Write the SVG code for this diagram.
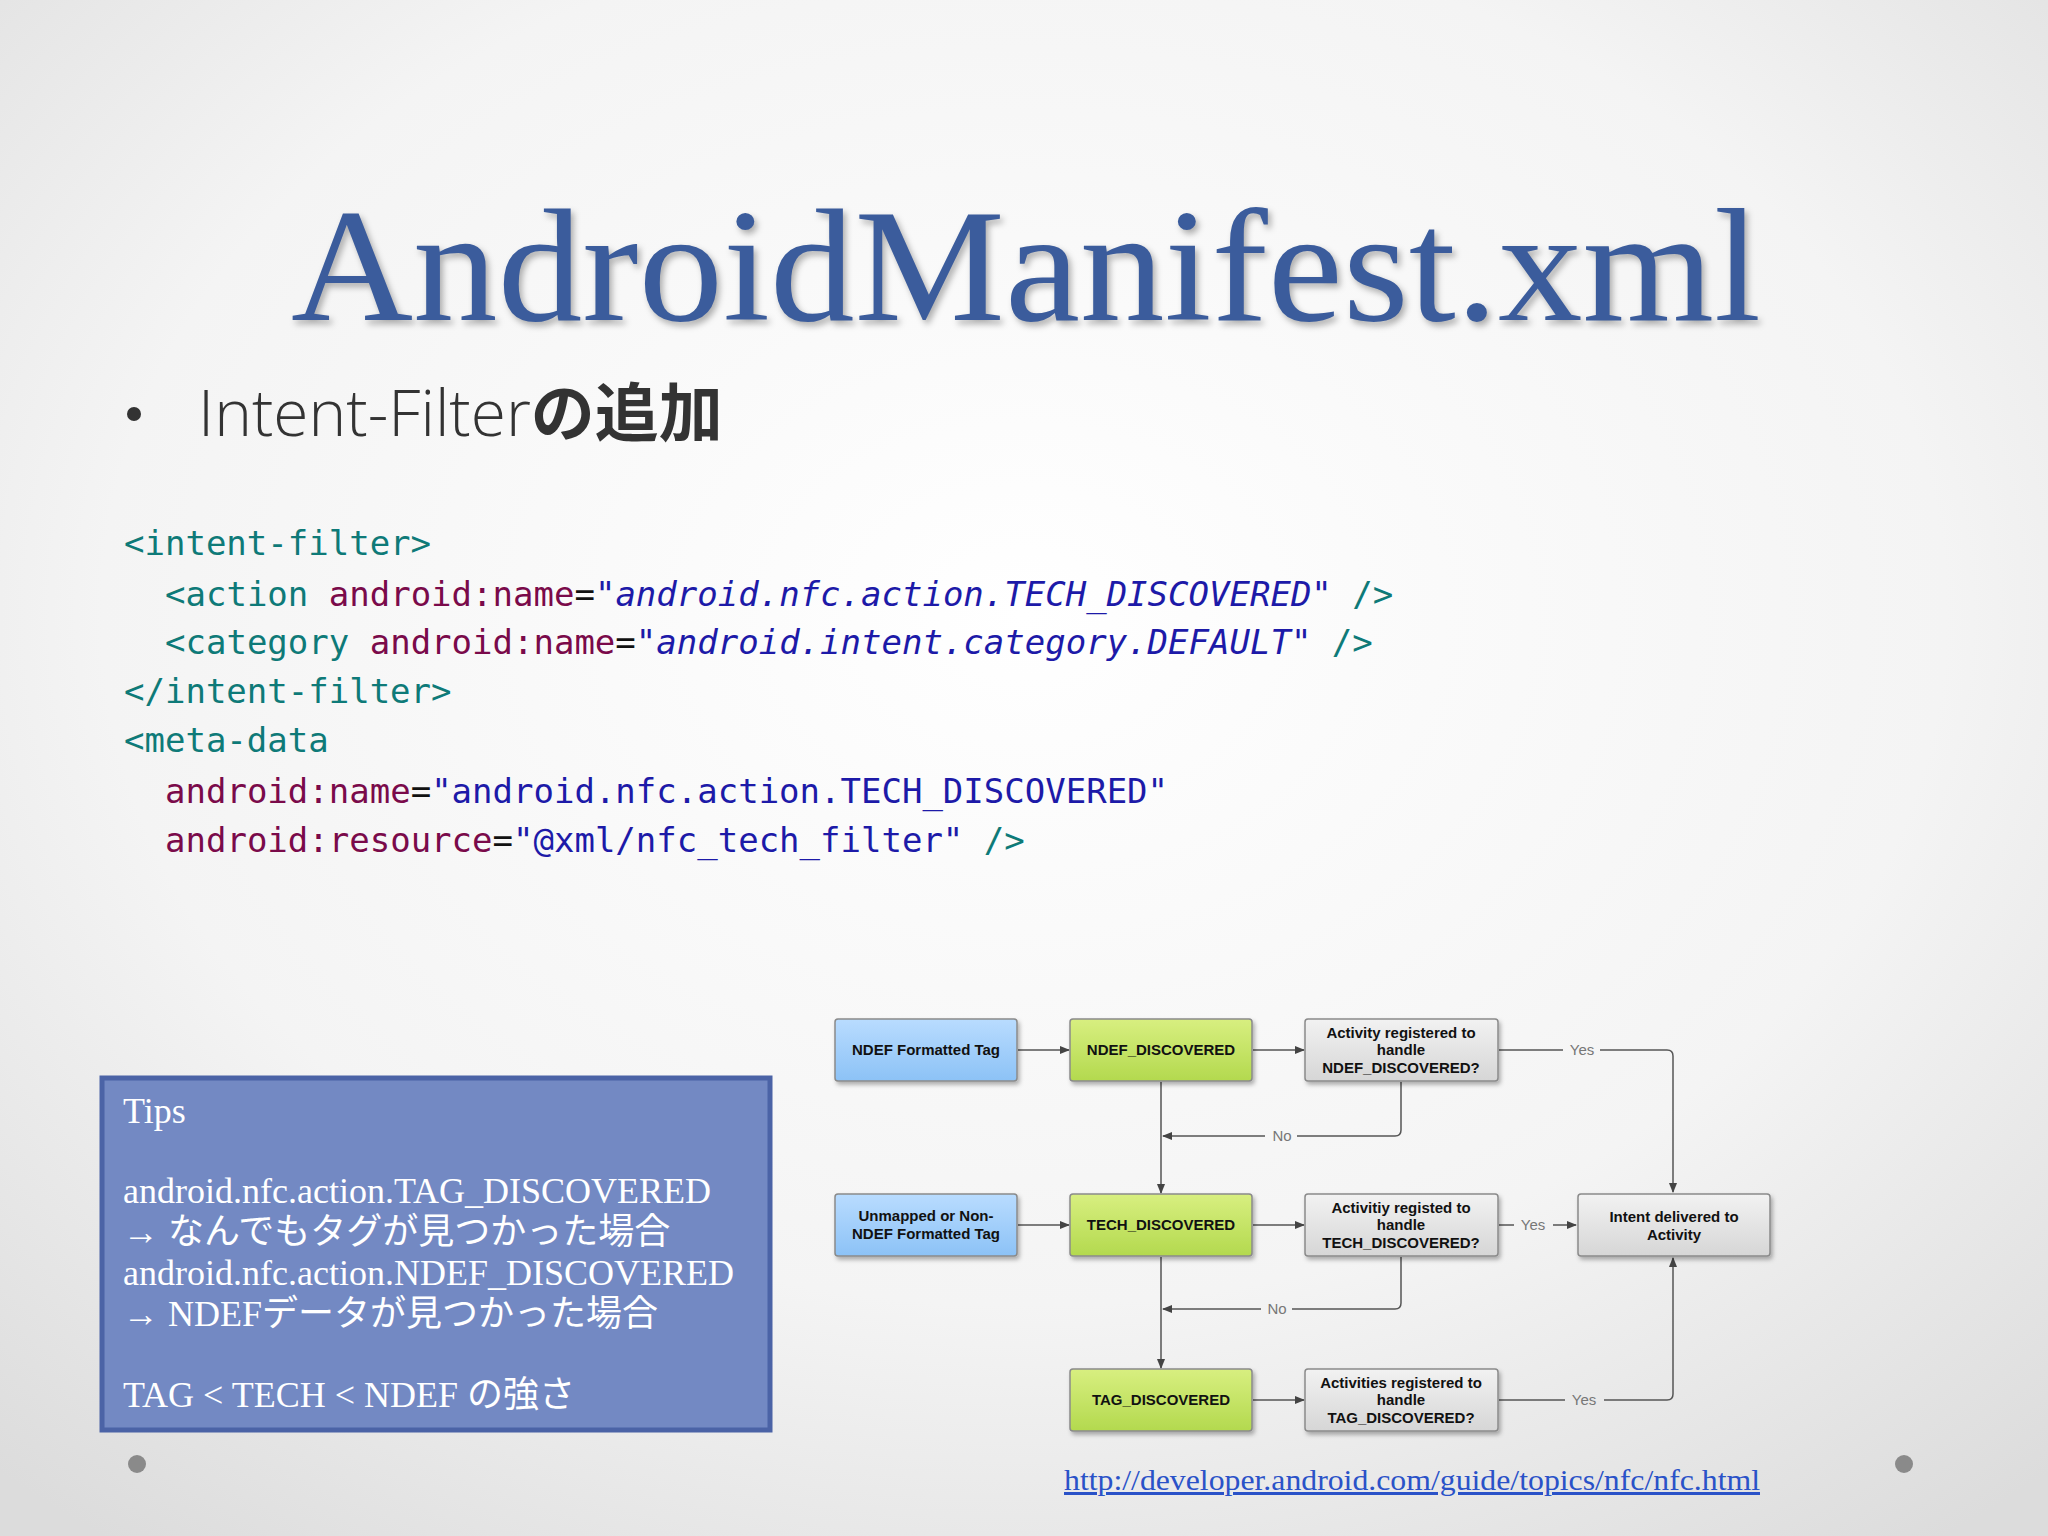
<svg xmlns="http://www.w3.org/2000/svg" width="2048" height="1536" viewBox="0 0 2048 1536">
<defs>
<radialGradient id="bg" cx="50%" cy="40%" r="75%"><stop offset="0" stop-color="#ffffff"/><stop offset="0.6" stop-color="#f4f4f4"/><stop offset="1" stop-color="#dcdcdc"/></radialGradient>
<linearGradient id="blue" x1="0" y1="0" x2="0" y2="1"><stop offset="0" stop-color="#b9dcff"/><stop offset="1" stop-color="#8cc2f6"/></linearGradient>
<linearGradient id="green" x1="0" y1="0" x2="0" y2="1"><stop offset="0" stop-color="#d8ef80"/><stop offset="1" stop-color="#b3d94e"/></linearGradient>
<linearGradient id="gray" x1="0" y1="0" x2="0" y2="1"><stop offset="0" stop-color="#f2f2f2"/><stop offset="1" stop-color="#d6d6d6"/></linearGradient>
<filter id="sh" x="-10%" y="-10%" width="130%" height="140%"><feDropShadow dx="2" dy="3" stdDeviation="2" flood-color="#000" flood-opacity="0.3"/></filter>
<marker id="ar" viewBox="0 0 10 10" refX="9" refY="5" markerWidth="7" markerHeight="7" orient="auto"><path d="M0,1 L10,5 L0,9 z" fill="#444"/></marker>
<style>
.code{font-family:"DejaVu Sans Mono","Liberation Mono",monospace;font-size:34px}
.t{fill:#0e7a78}.a{fill:#7a0a4a}.v{fill:#1d1aa8}.e{fill:#111}
.bx{stroke:#8a8a8a;stroke-width:1.5;filter:url(#sh)}
.bt{font-family:"Liberation Sans",Arial,sans-serif;font-weight:bold;font-size:15px;fill:#111;text-anchor:middle}
.ln{fill:none;stroke:#555;stroke-width:1.5}
.lb{font-family:"Liberation Sans",Arial,sans-serif;font-size:15px;fill:#777;text-anchor:middle}
.tips{font-family:"Liberation Serif","Noto Sans CJK JP",serif;font-size:36px;fill:#fff}
</style>
</defs>
<rect width="2048" height="1536" fill="url(#bg)"/>
<text x="1026" y="320" text-anchor="middle" font-family="Liberation Serif,serif" font-size="160" fill="#3b5c9c" textLength="1470" lengthAdjust="spacingAndGlyphs" style="filter:drop-shadow(3px 4px 3px rgba(0,0,0,0.3))">AndroidManifest.xml</text>
<circle cx="134" cy="414" r="7" fill="#333"/>
<text x="198" y="436" font-family="Open Sans,'Noto Sans CJK JP',sans-serif" font-weight="300" font-size="64" fill="#333">Intent-Filter<tspan font-family="'Noto Sans CJK JP',sans-serif" font-weight="bold">の追加</tspan></text>
<g class="code">
<text x="124" y="555"><tspan class="t">&lt;intent-filter&gt;</tspan></text>
<text x="165" y="606"><tspan class="t">&lt;action </tspan><tspan class="a">android:name</tspan><tspan class="e">=</tspan><tspan class="v">"<tspan font-style="italic">android.nfc.action.TECH_DISCOVERED</tspan>" </tspan><tspan class="t">/&gt;</tspan></text>
<text x="165" y="654"><tspan class="t">&lt;category </tspan><tspan class="a">android:name</tspan><tspan class="e">=</tspan><tspan class="v">"<tspan font-style="italic">android.intent.category.DEFAULT</tspan>" </tspan><tspan class="t">/&gt;</tspan></text>
<text x="124" y="703"><tspan class="t">&lt;/intent-filter&gt;</tspan></text>
<text x="124" y="752"><tspan class="t">&lt;meta-data</tspan></text>
<text x="165" y="803"><tspan class="a">android:name</tspan><tspan class="e">=</tspan><tspan class="v">"android.nfc.action.TECH_DISCOVERED"</tspan></text>
<text x="165" y="852"><tspan class="a">android:resource</tspan><tspan class="e">=</tspan><tspan class="v">"@xml/nfc_tech_filter" </tspan><tspan class="t">/&gt;</tspan></text>
</g>
<g id="tips">
<rect x="102" y="1078" width="668" height="352" fill="#7389c3" stroke="#4b63a6" stroke-width="5"/>
<text class="tips" x="123" y="1123">Tips</text>
<text class="tips" x="123" y="1203">android.nfc.action.TAG_DISCOVERED</text>
<text class="tips" x="123" y="1244">→ なんでもタグが見つかった場合</text>
<text class="tips" x="123" y="1285">android.nfc.action.NDEF_DISCOVERED</text>
<text class="tips" x="123" y="1326">→ NDEFデータが見つかった場合</text>
<text class="tips" x="123" y="1407">TAG &lt; TECH &lt; NDEF の強さ</text>
</g>
<g id="connectors">
<line class="ln" x1="1018" y1="1050" x2="1069" y2="1050" marker-end="url(#ar)"/>
<line class="ln" x1="1253" y1="1050" x2="1304" y2="1050" marker-end="url(#ar)"/>
<line class="ln" x1="1018" y1="1225" x2="1069" y2="1225" marker-end="url(#ar)"/>
<line class="ln" x1="1253" y1="1225" x2="1304" y2="1225" marker-end="url(#ar)"/>
<line class="ln" x1="1253" y1="1400" x2="1304" y2="1400" marker-end="url(#ar)"/>
<line class="ln" x1="1161" y1="1082" x2="1161" y2="1193" marker-end="url(#ar)"/>
<line class="ln" x1="1161" y1="1257" x2="1161" y2="1368" marker-end="url(#ar)"/>
<path class="ln" d="M1401,1082 V1130 Q1401,1136 1395,1136 H1297 M1265,1136 H1163" marker-end="url(#ar)"/>
<text class="lb" x="1282" y="1141">No</text>
<path class="ln" d="M1401,1257 V1303 Q1401,1309 1395,1309 H1292 M1261,1309 H1163" marker-end="url(#ar)"/>
<text class="lb" x="1277" y="1314">No</text>
<path class="ln" d="M1499,1050 H1563 M1600,1050 H1667 Q1673,1050 1673,1056 V1192" marker-end="url(#ar)"/>
<text class="lb" x="1582" y="1055">Yes</text>
<path class="ln" d="M1499,1225 H1514 M1553,1225 H1576" marker-end="url(#ar)"/>
<text class="lb" x="1533" y="1230">Yes</text>
<path class="ln" d="M1499,1400 H1565 M1604,1400 H1667 Q1673,1400 1673,1394 V1258" marker-end="url(#ar)"/>
<text class="lb" x="1584" y="1405">Yes</text>
</g>
<g id="n1"><rect class="bx" x="835" y="1019" width="182" height="62" rx="3" fill="url(#blue)"/><text class="bt" x="926" y="1055">NDEF Formatted Tag</text></g>
<g id="n2"><rect class="bx" x="1070" y="1019" width="182" height="62" rx="3" fill="url(#green)"/><text class="bt" x="1161" y="1055">NDEF_DISCOVERED</text></g>
<g id="n3"><rect class="bx" x="1305" y="1019" width="193" height="62" rx="3" fill="url(#gray)"/><text class="bt" x="1401" y="1038">Activity registered to</text><text class="bt" x="1401" y="1055">handle</text><text class="bt" x="1401" y="1073">NDEF_DISCOVERED?</text></g>
<g id="n4"><rect class="bx" x="835" y="1194" width="182" height="62" rx="3" fill="url(#blue)"/><text class="bt" x="926" y="1221">Unmapped or Non-</text><text class="bt" x="926" y="1239">NDEF Formatted Tag</text></g>
<g id="n5"><rect class="bx" x="1070" y="1194" width="182" height="62" rx="3" fill="url(#green)"/><text class="bt" x="1161" y="1230">TECH_DISCOVERED</text></g>
<g id="n6"><rect class="bx" x="1305" y="1194" width="193" height="62" rx="3" fill="url(#gray)"/><text class="bt" x="1401" y="1213">Activitiy registed to</text><text class="bt" x="1401" y="1230">handle</text><text class="bt" x="1401" y="1248">TECH_DISCOVERED?</text></g>
<g id="n7"><rect class="bx" x="1578" y="1194" width="192" height="62" rx="3" fill="url(#gray)"/><text class="bt" x="1674" y="1222">Intent delivered to</text><text class="bt" x="1674" y="1240">Activity</text></g>
<g id="n8"><rect class="bx" x="1070" y="1369" width="182" height="62" rx="3" fill="url(#green)"/><text class="bt" x="1161" y="1405">TAG_DISCOVERED</text></g>
<g id="n9"><rect class="bx" x="1305" y="1369" width="193" height="62" rx="3" fill="url(#gray)"/><text class="bt" x="1401" y="1388">Activities registered to</text><text class="bt" x="1401" y="1405">handle</text><text class="bt" x="1401" y="1423">TAG_DISCOVERED?</text></g>
<text x="1064" y="1490" font-family="Liberation Serif,serif" font-size="30" fill="#2a52c8" text-decoration="underline" textLength="696" lengthAdjust="spacingAndGlyphs">http://developer.android.com/guide/topics/nfc/nfc.html</text>
<circle cx="137" cy="1464" r="9" fill="#8a8a8a"/>
<circle cx="1904" cy="1464" r="9" fill="#8a8a8a"/>
</svg>
